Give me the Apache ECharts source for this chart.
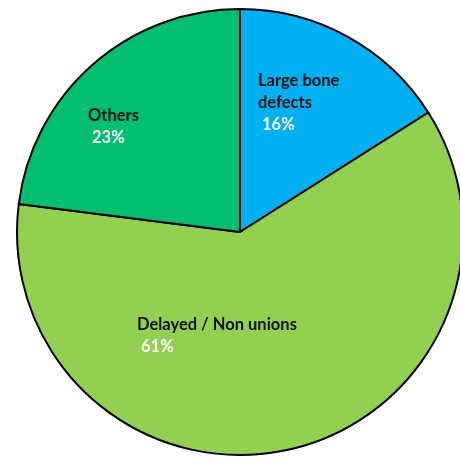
<!DOCTYPE html>
<html>
<head>
<meta charset="utf-8">
<script src="https://cdn.jsdelivr.net/npm/echarts@6/dist/echarts.min.js"></script>
<style>
  html, body { margin: 0; padding: 0; background: #fff; }
  #chart { width: 460px; height: 458px; }
</style>
</head>
<body>
<div id="chart"></div>
<script>
// Share of cases by indication (percent)
const categories = ['Large bone\ndefects', 'Delayed / Non unions', 'Others'];
const shares = [16, 61, 23];
const sliceColors = ['#00B0F0', '#92D050', '#00BF6F'];

// Top-left anchor of each slice's label block
const labelAnchors = [[258, 70], [137, 314], [88, 105]];

const chart = echarts.init(document.getElementById('chart'), null, { renderer: 'canvas' });

chart.setOption({
  animation: false,
  series: [{
    type: 'pie',
    center: [240, 232],
    radius: 223,
    startAngle: 90,
    clockwise: true,
    avoidLabelOverlap: false,
    data: categories.map((name, i) => ({
      name: name,
      value: shares[i],
      itemStyle: { color: sliceColors[i] }
    })),
    itemStyle: { borderColor: '#000', borderWidth: 2 },
    emphasis: { disabled: true },
    label: {
      show: true,
      position: 'inside',
      formatter: p => '{n|' + p.name + '}\n{v|' + p.value + '%}',
      rich: {
        n: { fontFamily: 'Lato', fontWeight: 'bold', fontSize: 16.5, color: '#111', lineHeight: 22 },
        v: { fontFamily: 'Lato', fontWeight: 'bold', fontSize: 16.5, color: '#fff', lineHeight: 21, padding: [0, 0, 0, 4] }
      }
    },
    labelLine: { show: false },
    labelLayout: params => {
      const a = labelAnchors[params.dataIndex];
      return { x: a[0], y: a[1], align: 'left', verticalAlign: 'top' };
    }
  }]
});
</script>
</body>
</html>
